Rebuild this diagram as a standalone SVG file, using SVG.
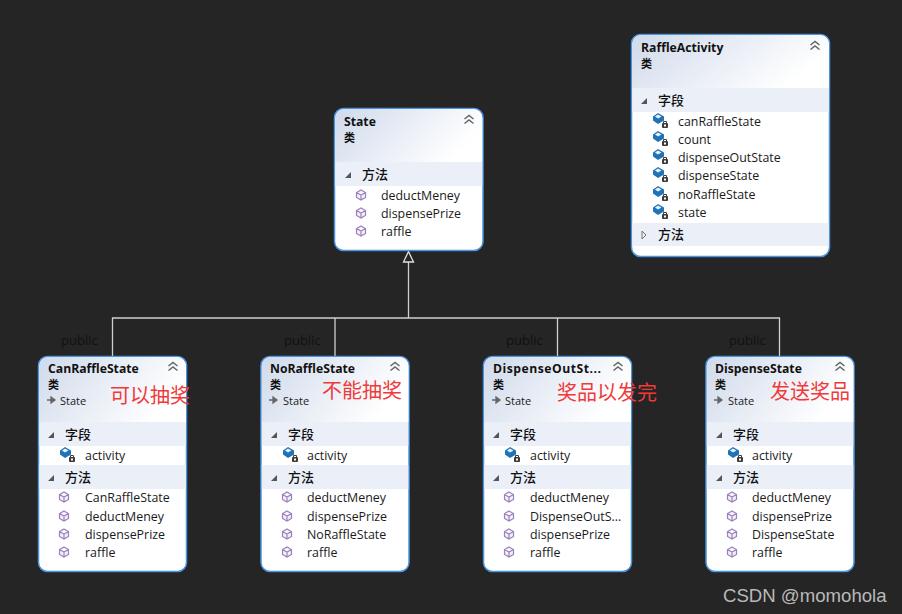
<svg xmlns="http://www.w3.org/2000/svg" xmlns:xlink="http://www.w3.org/1999/xlink" width="902" height="614" viewBox="0 0 902 614">
<style>
text{font-family:"Open Sans","Noto Sans","Noto Sans CJK SC",sans-serif;font-size:12.4px;fill:#1a1a1a}
.t{font-weight:700;fill:#111;font-size:12.2px}
.k{font-family:"Noto Sans CJK SC",sans-serif;font-size:11px;font-weight:700;fill:#111}
.s{font-family:"Noto Sans CJK SC",sans-serif;font-size:13px;font-weight:500;fill:#111}
.b{fill:url(#hd);}
.box{fill:#fff;stroke:#4a94e0;stroke-width:1.5}
.band{fill:#ebeff8}
.pub{fill:#111;font-size:13px}
.red{font-family:"Noto Sans CJK SC",sans-serif;font-size:20px;fill:#f03a3a}
.base{font-size:11px}
.conn{stroke:#d0d0d0;stroke-width:1.3;fill:none}
.wm{font-family:"Liberation Sans",sans-serif;font-size:18.6px;fill:#b9b9b9}
</style>
<defs>
<linearGradient id="hd" x1="0" y1="0" x2="1" y2="0.35"><stop offset="0" stop-color="#d0daeb"/><stop offset="1" stop-color="#ffffff"/></linearGradient>
<g id="m"><path d="M0-5 4.500-2.500V2.500L0 5-4.500 2.500V-2.500Z M-4.500-2.500 0 0 4.500-2.500M0 0V5" fill="#f3eef8" stroke="#9a80bd" stroke-width="1.200"/></g>
<g id="f"><path d="M-7-3.500 -2-7 4-3.500V0.500L-2 4-7 0.500Z" fill="#1f73b7"/><path d="M-5-3.500 -2-5.500 1.500-3.500 -2-1.500Z" fill="#e8f2fa"/><rect x="2" y="3" width="6" height="5" rx="1" fill="#3c3c3c"/><path d="M3.500 3V1.500H6.500V3" fill="none" stroke="#3c3c3c"/><rect x="4" y="4.500" width="2" height="2" fill="#fff"/></g>
<path id="c" d="M-4.500-1 0-4.500 4.500-1M-4.500 3.500 0 0 4.500 3.500" fill="none" stroke="#666" stroke-width="1.500"/>
<path id="o" d="M-3 3 3 3 3-3Z" fill="#555"/>
<path id="r" d="M-2-4 2 0-2 4Z" fill="#eee" stroke="#777"/>
<path id="in" d="M-6 0H-1M-2-3 2 0-2 3Z" fill="#666" stroke="#666" stroke-width="1.300"/>
</defs>
<rect width="902" height="614" fill="#252525"/>
<g id="connectors">
<path class="conn" d="M408.500 262V318M112.500 356V318H779.500V356M335 318V356M557.500 318V356"/>
<path d="M408.500 251.500 403.500 262H413.500Z" fill="#252525" stroke="#e0e0e0" stroke-width="1.300"/>
<text class="pub" x="61" y="345">public</text>
<text class="pub" x="284" y="345">public</text>
<text class="pub" x="506" y="345">public</text>
<text class="pub" x="729" y="345">public</text>
</g>
<g id="State">
<rect class="box" x="334.500" y="108.500" width="148.500" height="142" rx="9"/>
<path class="b" d="M335.300 162V118a9 9 0 0 1 9-9H473a9 9 0 0 1 9.300 9V162Z"/>
<rect x="335.300" y="162" width="147" height="24" class="band"/>
<text class="t" x="344" y="126">State</text><text class="k" x="344" y="142">类</text>
<use xlink:href="#c" x="469" y="120"/><use xlink:href="#o" x="348" y="175"/>
<text class="s" x="362" y="179">方法</text>
<use xlink:href="#m" x="361" y="195"/><use xlink:href="#m" x="361" y="213"/><use xlink:href="#m" x="361" y="231"/>
<text x="381" y="200">deductMeney</text><text x="381" y="218">dispensePrize</text><text x="381" y="236">raffle</text>
</g>
<g id="RaffleActivity">
<rect class="box" x="631.500" y="34.500" width="198" height="222" rx="9"/>
<path class="b" d="M632.300 88V44a9 9 0 0 1 9-9H820a9 9 0 0 1 9 9V88Z"/>
<rect x="632.300" y="88" width="196.500" height="24" class="band"/>
<rect x="632.300" y="223" width="196.500" height="23" class="band"/>
<text class="t" x="641" y="52">RaffleActivity</text><text class="k" x="641" y="68">类</text>
<use xlink:href="#c" x="815" y="46"/><use xlink:href="#o" x="644" y="101"/>
<text class="s" x="658" y="105">字段</text>
<use xlink:href="#f" x="660" y="120"/><use xlink:href="#f" x="660" y="138"/><use xlink:href="#f" x="660" y="156"/><use xlink:href="#f" x="660" y="174"/><use xlink:href="#f" x="660" y="193"/><use xlink:href="#f" x="660" y="211"/>
<text x="678" y="126">canRaffleState</text><text x="678" y="144">count</text><text x="678" y="162">dispenseOutState</text><text x="678" y="180">dispenseState</text><text x="678" y="199">noRaffleState</text><text x="678" y="217">state</text>
<use xlink:href="#r" x="644" y="235"/><text class="s" x="658" y="239">方法</text>
</g>
<g id="CanRaffleState">
<rect class="box" x="38.500" y="356.500" width="148" height="215" rx="9"/>
<path class="b" d="M39.300 422V366a9 9 0 0 1 9-9H177a9 9 0 0 1 9 9V422Z"/>
<rect x="39.300" y="422" width="146.500" height="24" class="band"/><rect x="39.300" y="465" width="146.500" height="24" class="band"/>
<text class="t" x="48" y="373">CanRaffleState</text><text class="k" x="48" y="389">类</text>
<use xlink:href="#in" x="53" y="400"/><text class="base" x="60" y="405">State</text>
<use xlink:href="#c" x="173" y="367"/><use xlink:href="#o" x="51" y="435"/><text class="s" x="65" y="439">字段</text>
<use xlink:href="#f" x="67" y="454"/><text x="85" y="460">activity</text>
<use xlink:href="#o" x="51" y="478"/><text class="s" x="65" y="482">方法</text>
<use xlink:href="#m" x="64" y="497"/><use xlink:href="#m" x="64" y="516"/><use xlink:href="#m" x="64" y="534"/><use xlink:href="#m" x="64" y="552"/>
<text x="85" y="502">CanRaffleState</text><text x="85" y="521">deductMeney</text><text x="85" y="539">dispensePrize</text><text x="85" y="557">raffle</text>
<text class="red" x="110" y="403">可以抽奖</text>
</g>
<g id="NoRaffleState">
<rect class="box" x="261" y="356.500" width="148" height="215" rx="9"/>
<path class="b" d="M261.800 422V366a9 9 0 0 1 9-9H399.500a9 9 0 0 1 9 9V422Z"/>
<rect x="261.800" y="422" width="146.500" height="24" class="band"/><rect x="261.800" y="465" width="146.500" height="24" class="band"/>
<text class="t" x="270" y="373">NoRaffleState</text><text class="k" x="270" y="389">类</text>
<use xlink:href="#in" x="275" y="400"/><text class="base" x="283" y="405">State</text>
<use xlink:href="#c" x="395" y="367"/><use xlink:href="#o" x="274" y="435"/><text class="s" x="288" y="439">字段</text>
<use xlink:href="#f" x="290" y="454"/><text x="307" y="460">activity</text>
<use xlink:href="#o" x="274" y="478"/><text class="s" x="288" y="482">方法</text>
<use xlink:href="#m" x="287" y="497"/><use xlink:href="#m" x="287" y="516"/><use xlink:href="#m" x="287" y="534"/><use xlink:href="#m" x="287" y="552"/>
<text x="307" y="502">deductMeney</text><text x="307" y="521">dispensePrize</text><text x="307" y="539">NoRaffleState</text><text x="307" y="557">raffle</text>
<text class="red" x="322" y="398">不能抽奖</text>
</g>
<g id="DispenseOutState">
<rect class="box" x="483.500" y="356.500" width="148" height="215" rx="9"/>
<path class="b" d="M484.300 422V366a9 9 0 0 1 9-9H622a9 9 0 0 1 9 9V422Z"/>
<rect x="484.300" y="422" width="146.500" height="24" class="band"/><rect x="484.300" y="465" width="146.500" height="24" class="band"/>
<text class="t" x="493" y="373" textLength="108">DispenseOutSt...</text><text class="k" x="493" y="389">类</text>
<use xlink:href="#in" x="498" y="400"/><text class="base" x="505" y="405">State</text>
<use xlink:href="#c" x="618" y="367"/><use xlink:href="#o" x="496" y="435"/><text class="s" x="510" y="439">字段</text>
<use xlink:href="#f" x="512" y="454"/><text x="530" y="460">activity</text>
<use xlink:href="#o" x="496" y="478"/><text class="s" x="510" y="482">方法</text>
<use xlink:href="#m" x="509" y="497"/><use xlink:href="#m" x="509" y="516"/><use xlink:href="#m" x="509" y="534"/><use xlink:href="#m" x="509" y="552"/>
<text x="530" y="502">deductMeney</text><text x="530" y="521">DispenseOutS...</text><text x="530" y="539">dispensePrize</text><text x="530" y="557">raffle</text>
<text class="red" x="557" y="400">奖品以发完</text>
</g>
<g id="DispenseState">
<rect class="box" x="706" y="356.500" width="148" height="215" rx="9"/>
<path class="b" d="M706.800 422V366a9 9 0 0 1 9-9H844.500a9 9 0 0 1 9 9V422Z"/>
<rect x="706.800" y="422" width="146.500" height="24" class="band"/><rect x="706.800" y="465" width="146.500" height="24" class="band"/>
<text class="t" x="715" y="373">DispenseState</text><text class="k" x="715" y="389">类</text>
<use xlink:href="#in" x="720" y="400"/><text class="base" x="728" y="405">State</text>
<use xlink:href="#c" x="840" y="367"/><use xlink:href="#o" x="719" y="435"/><text class="s" x="733" y="439">字段</text>
<use xlink:href="#f" x="735" y="454"/><text x="752" y="460">activity</text>
<use xlink:href="#o" x="719" y="478"/><text class="s" x="733" y="482">方法</text>
<use xlink:href="#m" x="732" y="497"/><use xlink:href="#m" x="732" y="516"/><use xlink:href="#m" x="732" y="534"/><use xlink:href="#m" x="732" y="552"/>
<text x="752" y="502">deductMeney</text><text x="752" y="521">dispensePrize</text><text x="752" y="539">DispenseState</text><text x="752" y="557">raffle</text>
<text class="red" x="770" y="399">发送奖品</text>
</g>
<text class="wm" x="723" y="602">CSDN @momohola</text>
</svg>
